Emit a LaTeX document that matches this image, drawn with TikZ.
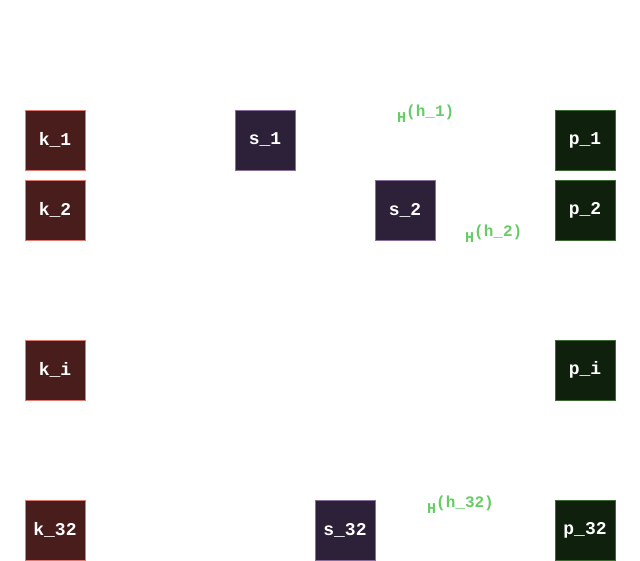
\documentclass[tikz,border=0pt]{standalone}
\usepackage{fontspec}
\setmonofont{Liberation Mono}
\newcommand{\hsup}[1]{H\raisebox{6pt}{\fontsize{16}{16}\selectfont #1}}
\begin{document}
\begin{tikzpicture}[x=1pt,y=-1pt,
  box/.style={minimum width=60pt,minimum height=60pt,inner sep=0pt,line width=0.8pt,
    text=white,font=\ttfamily\bfseries\fontsize{18}{18}\selectfont},
  kbox/.style={box,fill=kfill,draw=kline},
  sbox/.style={box,fill=sfill,draw=sline},
  pbox/.style={box,fill=pfill,draw=pline},
  hlab/.style={text=hgreen,inner sep=0pt,anchor=base west,font=\ttfamily\bfseries\fontsize{15}{15}\selectfont}]
\definecolor{kfill}{HTML}{4A1D1D}
\definecolor{kline}{HTML}{E07A70}
\definecolor{sfill}{HTML}{2D2139}
\definecolor{sline}{HTML}{8A6E9E}
\definecolor{pfill}{HTML}{0F200D}
\definecolor{pline}{HTML}{3E6A34}
\definecolor{hgreen}{HTML}{66CC66}
\useasboundingbox (0,0) rectangle (640,561);
\node[kbox] (k1) at (55,140) {k\_1};
\node[kbox] (k2) at (55,210) {k\_2};
\node[kbox] (ki) at (55,370) {k\_i};
\node[kbox] (k32) at (55,530) {k\_32};
\node[sbox] (s1) at (265,140) {s\_1};
\node[sbox] (s2) at (405,210) {s\_2};
\node[sbox] (s32) at (345,530) {s\_32};
\node[pbox] (p1) at (585,140) {p\_1};
\node[pbox] (p2) at (585,210) {p\_2};
\node[pbox] (pi) at (585,370) {p\_i};
\node[pbox] (p32) at (585,530) {p\_32};
\node[hlab] (h1) at (397,123) {\hsup{(h\_1)}};
\node[hlab] (h2) at (465,243) {\hsup{(h\_2)}};
\node[hlab] (h32) at (427,513) {\hsup{(h\_32)}};
\end{tikzpicture}
\end{document}
